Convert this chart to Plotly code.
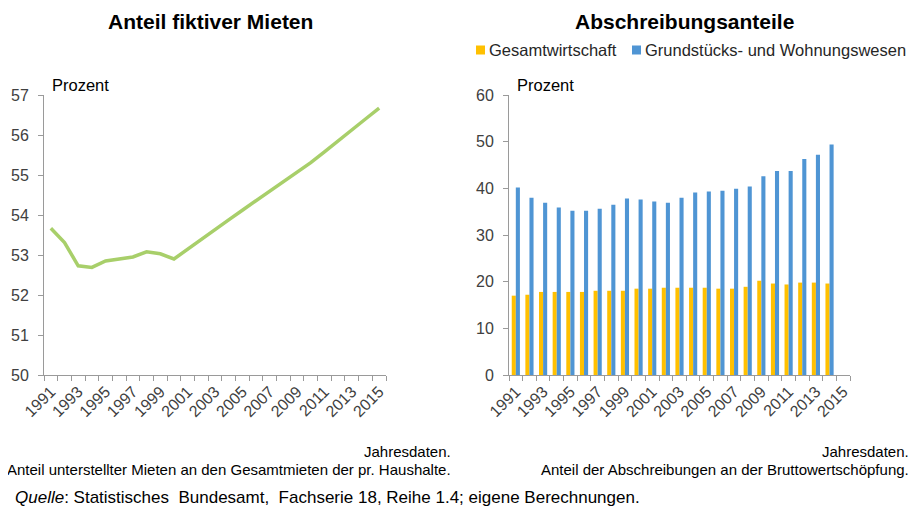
import plotly.graph_objects as go

years = list(range(1991, 2016))
fiktive_mieten = [53.67, 53.31, 52.73, 52.69, 52.85, 52.90, 52.95, 53.08, 53.03, 52.90,
                  53.15, 53.39, 53.63, 53.88, 54.12, 54.36, 54.60, 54.84, 55.07, 55.31,
                  55.58, 55.86, 56.12, 56.40, 56.67]

bar_years = list(range(1991, 2015))
gesamtwirtschaft = [17.0, 17.2, 17.8, 17.8, 17.8, 17.8, 18.05, 18.05, 18.05, 18.5,
                    18.5, 18.7, 18.7, 18.7, 18.7, 18.5, 18.5, 18.9, 20.2, 19.6,
                    19.4, 19.8, 19.8, 19.6]
grundstuecke = [40.2, 38.0, 36.9, 35.9, 35.2, 35.2, 35.6, 36.5, 37.8, 37.6,
                37.2, 36.9, 38.0, 39.1, 39.3, 39.5, 39.9, 40.4, 42.6, 43.7,
                43.7, 46.3, 47.2, 49.4]
label_years = list(range(1991, 2016, 2))

W, H = 916, 506
OFF = 8  # page body margin offset
FONT = "Liberation Sans, Arial, sans-serif"
GREEN = "#A8CF6A"
YELLOW = "#FFC000"
BLUE = "#4F95D4"
AXIS = "#9a9a9a"
TICKFONT = dict(family=FONT, size=16, color="#404040")


def px(x):
    return (x - OFF) / W


def py(y):
    return (H - (y - OFF)) / H


fig = go.Figure()
fig.add_trace(go.Scatter(x=years, y=fiktive_mieten, mode="lines",
                         line=dict(color=GREEN, width=3.5), xaxis="x", yaxis="y",
                         showlegend=False, name="Anteil fiktiver Mieten"))
fig.add_trace(go.Bar(x=bar_years, y=gesamtwirtschaft, marker_color=YELLOW,
                     xaxis="x2", yaxis="y2", name="Gesamtwirtschaft", showlegend=False))
fig.add_trace(go.Bar(x=bar_years, y=grundstuecke, marker_color=BLUE,
                     xaxis="x2", yaxis="y2", name="Grundstücks- und Wohnungswesen",
                     showlegend=False))

ydom = [py(375), py(95)]
xcommon = dict(range=[1990.5, 2015.5], tickmode="array", tickvals=label_years,
               ticktext=[str(y) for y in label_years], tickangle=-45, ticks="",
               showline=True, linecolor=AXIS, linewidth=1, showgrid=False, zeroline=False,
               tickfont=TICKFONT, automargin=False,
               minor=dict(ticks="outside", tick0=1990.5, dtick=1, ticklen=5,
                          tickcolor=AXIS, showgrid=False))
ycommon = dict(ticks="outside", ticklen=5, tickcolor=AXIS, showline=True, linecolor=AXIS,
               linewidth=1, showgrid=False, zeroline=False, tickfont=TICKFONT,
               automargin=False, ticklabelstandoff=6)

fig.update_layout(
    template="none",
    width=W, height=H, margin=dict(l=0, r=0, t=0, b=0, pad=0), autosize=False,
    paper_bgcolor="white", plot_bgcolor="white",
    barmode="group", bargap=0.4, bargroupgap=0,
    xaxis=dict(domain=[px(44), px(386)], anchor="y", **xcommon),
    yaxis=dict(domain=ydom, anchor="x", range=[50, 57], dtick=1, **ycommon),
    xaxis2=dict(domain=[px(509), px(850)], anchor="y2", **xcommon),
    yaxis2=dict(domain=ydom, anchor="x2", range=[0, 60], dtick=10, **ycommon),
    font=dict(family=FONT, color="#000000"),
)

ann = []
ann.append(dict(text="<b>Anteil fiktiver Mieten</b>", x=px(210), y=py(22),
                xanchor="center", yanchor="middle", font=dict(size=21, family=FONT)))
ann.append(dict(text="<b>Abschreibungsanteile</b>", x=px(684), y=py(22),
                xanchor="center", yanchor="middle", font=dict(size=21, family=FONT)))
ann.append(dict(text="Prozent", x=px(50), y=py(85), xanchor="left", yanchor="middle",
                font=dict(size=16.5, family=FONT)))
ann.append(dict(text="Prozent", x=px(515), y=py(85), xanchor="left", yanchor="middle",
                font=dict(size=16.5, family=FONT)))
# legend
ann.append(dict(text="Gesamtwirtschaft", x=px(487), y=py(50), xanchor="left",
                yanchor="middle", font=dict(size=16.5, family=FONT, color="#262626")))
ann.append(dict(text="Grundstücks- und Wohnungswesen", x=px(643), y=py(50), xanchor="left",
                yanchor="middle", font=dict(size=16.5, family=FONT, color="#262626")))
# footnotes
FN = 15
ann.append(dict(text="Jahresdaten.", x=px(453), y=py(451), xanchor="right",
                yanchor="middle", font=dict(size=FN, family=FONT)))
ann.append(dict(text="Anteil unterstellter Mieten an den Gesamtmieten der pr. Haushalte.",
                x=px(453), y=py(469), xanchor="right", yanchor="middle",
                font=dict(size=FN, family=FONT)))
ann.append(dict(text="Jahresdaten.", x=px(911), y=py(451), xanchor="right",
                yanchor="middle", font=dict(size=FN, family=FONT)))
ann.append(dict(text="Anteil der Abschreibungen an der Bruttowertschöpfung.",
                x=px(911), y=py(469), xanchor="right", yanchor="middle",
                font=dict(size=FN, family=FONT)))
ann.append(dict(text="<i>Quelle</i>: Statistisches  Bundesamt,  Fachserie 18, Reihe 1.4; eigene Berechnungen.",
                x=px(13), y=py(497), xanchor="left", yanchor="middle",
                font=dict(size=17, family=FONT)))
for a in ann:
    a.update(xref="paper", yref="paper", showarrow=False)
fig.update_layout(annotations=ann)

fig.update_layout(shapes=[
    dict(type="rect", xref="paper", yref="paper", x0=px(476), x1=px(485), y0=py(54.5),
         y1=py(45.5), fillcolor=YELLOW, line=dict(width=0)),
    dict(type="rect", xref="paper", yref="paper", x0=px(632), x1=px(641), y0=py(54.5),
         y1=py(45.5), fillcolor=BLUE, line=dict(width=0)),
])

fig.write_html("out.html")
